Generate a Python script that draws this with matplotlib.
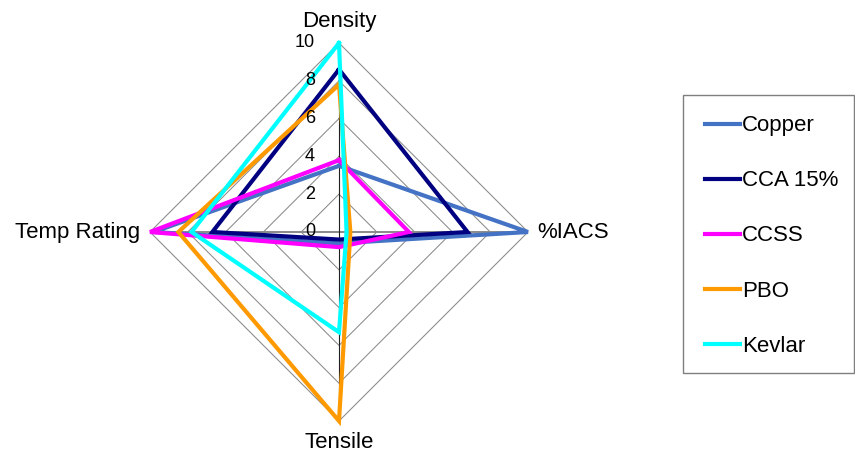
"""
Radar chart comparing conductor / strength-member materials.
"""

import numpy as np
import matplotlib
matplotlib.use("Agg")
import matplotlib.pyplot as plt
from matplotlib.lines import Line2D
from matplotlib.patches import Rectangle

plt.rcParams["font.family"] = ["Liberation Sans", "DejaVu Sans"]

# spokes, clockwise from the top
spokes = ["Density", "%IACS", "Tensile", "Temp Rating"]

series_names = ["Copper", "CCA 15%", "CCSS", "PBO", "Kevlar"]
copper = [3.5, 10.0, 0.6, 9.8]
cca_15 = [8.6, 6.8, 0.4, 6.7]
ccss = [3.8, 3.7, 0.8, 10.0]
pbo = [7.8, 0.6, 10.0, 8.5]
kevlar = [10.0, 0.4, 5.3, 7.8]
series_colors = ["#4472C4", "#000080", "#FF00FF", "#FF9900", "#00FFFF"]

ring_values = [0, 2, 4, 6, 8, 10]

W, H = 855, 453
CX, CY, R = 339, 232, 189     # centre and outer radius, pixels from top-left
LABEL_FS = 16


def to_xy(values):
    ang = np.linspace(0, 2 * np.pi, len(values), endpoint=False)
    v = np.asarray(values, dtype=float)
    x = v * np.sin(ang)
    y = v * np.cos(ang)
    return np.append(x, x[0]), np.append(y, y[0])


fig = plt.figure(figsize=(W / 100, H / 100), dpi=100)
ax = fig.add_axes([(CX - R) / W, (H - CY - R) / H, 2 * R / W, 2 * R / H])
ax.set_xlim(-10, 10)
ax.set_ylim(-10, 10)
ax.set_aspect("equal")
ax.axis("off")

# diamond gridlines
for r in ring_values[1:]:
    gx, gy = to_xy([r] * len(spokes))
    ax.plot(gx, gy, color="#8a8a8a", lw=0.75, zorder=1)

# spokes: horizontal grey, vertical value axis dark
ax.plot([-10, 10], [0, 0], color="#8a8a8a", lw=1.4, zorder=1)
ax.plot([0, 0], [-10, 10], color="#202020", lw=0.8, zorder=1)

for r in ring_values:
    ax.text(-1.27, r, str(r), ha="right", va="center", fontsize=13, zorder=5)

# data polygons
for vals, col in zip([copper, cca_15, ccss, pbo, kevlar], series_colors):
    px, py = to_xy(vals)
    ax.plot(px, py, color=col, lw=3, zorder=3, clip_on=False,
            solid_joinstyle="miter")

# spoke names
unit = 10 / R
ax.text(0, (CY - 27) * unit, spokes[0], ha="center", va="baseline", fontsize=LABEL_FS)
ax.text((537 - CX) * unit, -(238.5 - CY) * unit, spokes[1],
        ha="left", va="baseline", fontsize=LABEL_FS)
ax.text(0, -(448 - CY) * unit, spokes[2], ha="center", va="baseline", fontsize=LABEL_FS)
ax.text(-(CX - 140) * unit, -(238.5 - CY) * unit, spokes[3],
        ha="right", va="baseline", fontsize=LABEL_FS)

# legend box on the right
box_l, box_t, box_r, box_b = 682.7, 95, 854, 372.7
fig.patches.append(Rectangle((box_l / W, 1 - box_b / H),
                             (box_r - box_l) / W, (box_b - box_t) / H,
                             transform=fig.transFigure, fill=False,
                             edgecolor="#7f7f7f", lw=1))
row0, row_gap = 123.5, 55.2
for i, (name, col) in enumerate(zip(series_names, series_colors)):
    yy = row0 + i * row_gap
    fig.lines.append(Line2D([705 / W, 740 / W], [1 - yy / H, 1 - yy / H],
                            transform=fig.transFigure, color=col, lw=3))
    fig.text(742 / W, 1 - (yy + 7.5) / H, name, ha="left", va="baseline",
             fontsize=LABEL_FS)

fig.savefig("out.png", dpi=100, facecolor="white")
